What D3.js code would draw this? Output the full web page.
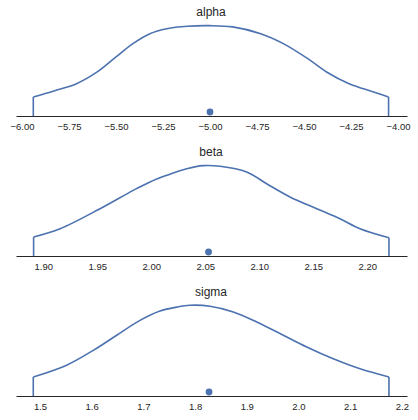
<!DOCTYPE html>
<html>
<head>
<meta charset="utf-8">
<script src="https://cdn.jsdelivr.net/npm/d3@7"></script>
<style>
  body { margin: 0; background: #fff; }
  svg { display: block; font-family: "Liberation Sans", Arial, sans-serif; }
</style>
</head>
<body>
<svg width="418" height="420"></svg>
<script>
// posterior densities
const varNames = ['alpha', 'beta', 'sigma']

const alphaX = [-5.94, -5.83, -5.71, -5.60, -5.50, -5.41, -5.32, -5.23, -5.12, -5.00, -4.88, -4.73, -4.61, -4.48, -4.38, -4.26, -4.13, -4.05]
const alphaDens = [0.168, 0.222, 0.286, 0.390, 0.523, 0.641, 0.729, 0.773, 0.795, 0.800, 0.789, 0.729, 0.641, 0.508, 0.390, 0.286, 0.213, 0.168]

const betaX = [1.891, 1.9155, 1.9525, 1.9833, 1.9988, 2.0143, 2.0328, 2.0482, 2.0636, 2.0883, 2.1068, 2.1284, 2.1532, 2.1747, 2.1933, 2.2201]
const betaDens = [1.18, 1.69, 2.93, 4.07, 4.59, 5.00, 5.41, 5.60, 5.56, 5.21, 4.48, 3.66, 2.93, 2.31, 1.69, 1.13]

const sigmaX = [1.487, 1.5516, 1.6031, 1.6484, 1.6934, 1.7321, 1.7644, 1.7901, 1.8288, 1.8739, 1.9191, 1.9706, 2.0159, 2.0673, 2.1190, 2.1750]
const sigmaDens = [0.63, 1.02, 1.51, 2.01, 2.50, 2.81, 2.94, 3.00, 2.97, 2.78, 2.45, 2.01, 1.62, 1.23, 0.90, 0.63]

// point estimates (mean)
const pointEst = [-5.00, 2.053, 1.827]

// tick labels
const alphaTicks = [-6.00, -5.75, -5.50, -5.25, -5.00, -4.75, -4.50, -4.25, -4.00]
const betaTicks = [1.90, 1.95, 2.00, 2.05, 2.10, 2.15, 2.20]
const sigmaTicks = [1.5, 1.6, 1.7, 1.8, 1.9, 2.0, 2.1, 2.2]

const xLimits = [[-6.032, -3.952], [1.8747, 2.2368], [1.4536, 2.2099]]
const yMax = [0.850, 5.95, 3.175]

const panels = [
  { name: varNames[0], x: alphaX, d: alphaDens, ticks: alphaTicks, fmt: d3.format('.2f') },
  { name: varNames[1], x: betaX, d: betaDens, ticks: betaTicks, fmt: d3.format('.2f') },
  { name: varNames[2], x: sigmaX, d: sigmaDens, ticks: sigmaTicks, fmt: d3.format('.1f') }
]

const svg = d3.select('svg')
const color = '#4c72b0'
const panelH = 140

panels.forEach((p, i) => {
  const g = svg.append('g').attr('transform', `translate(0,${i * panelH})`)

  const x = d3.scaleLinear().domain(xLimits[i]).range([16, 407])
  const y = d3.scaleLinear().domain([0, yMax[i]]).range([116, 20])

  // title
  g.append('text')
    .attr('x', 211)
    .attr('y', 16)
    .attr('text-anchor', 'middle')
    .attr('font-size', 12)
    .attr('fill', '#262626')
    .text(p.name)

  // density curve with the end drops
  const pts = p.x.map((v, k) => [v, p.d[k]])
  const line = d3.line()
    .x(d => x(d[0]))
    .y(d => y(d[1]))
    .curve(d3.curveCatmullRom)

  g.append('path')
    .attr('d', line(pts))
    .attr('fill', 'none')
    .attr('stroke', color)
    .attr('stroke-width', 1.6)

  const ends = [pts[0], pts[pts.length - 1]]
  g.selectAll('.drop')
    .data(ends)
    .enter()
    .append('line')
      .attr('class', 'drop')
      .attr('x1', d => x(d[0]))
      .attr('x2', d => x(d[0]))
      .attr('y1', d => y(d[1]))
      .attr('y2', y(0))
      .attr('stroke', color)
      .attr('stroke-width', 1.6)

  // axis
  const axis = d3.axisBottom(x)
    .tickValues(p.ticks)
    .tickFormat(p.fmt)
    .tickSize(0)
    .tickSizeOuter(0)
    .tickPadding(7)

  const ax = g.append('g')
    .attr('transform', `translate(0,${y(0)})`)
    .call(axis)
  ax.select('.domain').attr('stroke', '#262626').attr('stroke-width', 1.2)
  ax.selectAll('text').attr('font-size', 9.5).attr('fill', '#262626')
    .attr('font-family', '"Liberation Sans", Arial, sans-serif')

  // point estimate
  g.append('circle')
    .attr('cx', x(pointEst[i]))
    .attr('cy', y(0) - 4)
    .attr('r', 3.4)
    .attr('fill', color)
})
</script>
</body>
</html>
